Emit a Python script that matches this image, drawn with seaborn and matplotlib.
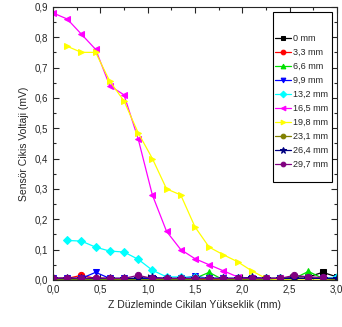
import numpy as np
import pandas as pd
import seaborn as sns
import matplotlib.pyplot as plt
from matplotlib.patches import Rectangle
from matplotlib.ticker import MultipleLocator, FuncFormatter

# x positions (mm)
z = [0.0, 0.15, 0.3, 0.45, 0.6, 0.75, 0.9, 1.05, 1.2, 1.35, 1.5,
     1.65, 1.8, 1.95, 2.1, 2.25, 2.4, 2.55, 2.7, 2.85, 3.0]

v_0    = [0.0, 0.0, 0.005, 0.0, 0.0, 0.0, 0.005, 0.005, 0.0, 0.0, 0.005,
          0.0, 0.0, 0.0, 0.005, 0.0, 0.005, 0.01, 0.01, 0.025, 0.01]
v_3_3  = [0.005, 0.005, 0.015, 0.005, 0.005, 0.0, 0.005, 0.0, 0.0, 0.0, 0.005,
          0.0, 0.0, 0.0, 0.0, 0.0, 0.0, 0.005, 0.005, 0.005, 0.0]
v_6_6  = [0.0, 0.0, 0.005, 0.0, 0.0, 0.0, 0.0, 0.0, 0.0, 0.0, 0.005,
          0.025, 0.0, 0.0, 0.0, 0.0, 0.0, 0.005, 0.028, 0.005, 0.0]
v_9_9  = [0.005, 0.005, 0.005, 0.025, 0.005, 0.005, 0.005, 0.005, 0.005, 0.005, 0.012,
          0.005, 0.005, 0.005, 0.005, 0.005, 0.005, 0.005, 0.005, 0.005, 0.005]
v_13_2 = [None, 0.13, 0.128, 0.108, 0.095, 0.092, 0.068, 0.032, 0.01, 0.01, 0.008,
          0.005, 0.005, 0.005, 0.005, 0.005, 0.005, 0.005, 0.005, 0.005, 0.01]
v_16_5 = [0.88, 0.86, 0.81, 0.76, 0.64, 0.61, 0.465, 0.28, 0.16, 0.10, 0.07,
          0.05, 0.03, 0.01, 0.005, 0.005, 0.005, 0.005, 0.005, 0.005, 0.005]
v_19_8 = [None, 0.77, 0.75, 0.75, 0.655, 0.59, 0.485, 0.40, 0.30, 0.28, 0.175,
          0.108, 0.083, 0.06, 0.03, 0.005, 0.0, 0.0, 0.0, 0.0, 0.0]
v_23_1 = [0.0, 0.0, 0.0, 0.0, 0.0, 0.0, 0.0, 0.0, 0.0, 0.0, 0.0,
          0.0, 0.0, 0.0, 0.0, 0.005, 0.005, 0.005, 0.005, 0.005, 0.0]
v_26_4 = [0.005, 0.005, 0.005, 0.005, 0.005, 0.005, 0.005, 0.008, 0.005, 0.005, 0.005,
          0.005, 0.005, 0.005, 0.008, 0.005, 0.005, 0.005, 0.005, 0.005, 0.005]
v_29_7 = [0.005, 0.007, 0.005, 0.007, 0.005, 0.005, 0.015, 0.005, 0.005, 0.005, 0.005,
          0.005, 0.005, 0.005, 0.005, 0.005, 0.005, 0.015, 0.01, 0.008, None]

labels  = ["0 mm", "3,3 mm", "6,6 mm", "9,9 mm", "13,2 mm",
           "16,5 mm", "19,8 mm", "23,1 mm", "26,4 mm", "29,7 mm"]
series  = [v_0, v_3_3, v_6_6, v_9_9, v_13_2, v_16_5, v_19_8, v_23_1, v_26_4, v_29_7]
colors  = ["black", "red", "#00e000", "blue", "cyan", "magenta",
           "yellow", "#808000", "#000080", "#800080"]
markers = ["s", "o", "^", "v", "D", "<", ">", "o", "*", "o"]

sns.set_style("ticks")
plt.rcParams["font.family"] = ["Liberation Sans", "DejaVu Sans"]
plt.rcParams["xtick.direction"] = "in"
plt.rcParams["ytick.direction"] = "in"

fig = plt.figure(figsize=(3.42, 3.27), dpi=100)
ax = fig.add_axes([0.155, 0.144, 0.83, 0.835])

for lab, vals, col, mk in zip(labels, series, colors, markers):
    df = pd.DataFrame({"z": z, "v": vals}).dropna()
    sns.lineplot(data=df, x="z", y="v", ax=ax, color=col, marker=mk,
                 markersize=6 if mk == "*" else 4.5, markeredgecolor=col,
                 linewidth=0.9, label=lab)

ax.set_xlim(0, 3.0)
ax.set_ylim(0, 0.9)
ax.xaxis.set_major_locator(MultipleLocator(0.5))
ax.xaxis.set_minor_locator(MultipleLocator(0.25))
ax.yaxis.set_major_locator(MultipleLocator(0.1))
ax.yaxis.set_minor_locator(MultipleLocator(0.05))
comma = FuncFormatter(lambda v, p: f"{v:.1f}".replace(".", ","))
ax.xaxis.set_major_formatter(comma)
ax.yaxis.set_major_formatter(comma)
ax.tick_params(which="both", top=True, right=True, labelsize=7, width=0.8)
ax.tick_params(which="major", length=4)
ax.tick_params(which="minor", length=2)
for s in ax.spines.values():
    s.set_linewidth(0.8)

ax.set_xlabel("Z Düzleminde Cikilan Yükseklik (mm)", fontsize=7.5)
ax.set_ylabel("Sensör Cikis Voltaji (mV)", fontsize=7.5)

# legend box drawn separately so it can be taller than its entries
ax.add_patch(Rectangle((0.775, 0.36), 0.207, 0.622, transform=ax.transAxes,
                       facecolor="white", edgecolor="black", linewidth=0.8,
                       zorder=5))
leg = ax.legend(loc="upper left", bbox_to_anchor=(0.782, 0.9), fontsize=6.5,
                frameon=False, handlelength=1.8, labelspacing=0.55,
                borderpad=0, borderaxespad=0, handletextpad=0.25,
                markerscale=0.75)
leg.set_zorder(6)

fig.savefig("out.png", dpi=100)
